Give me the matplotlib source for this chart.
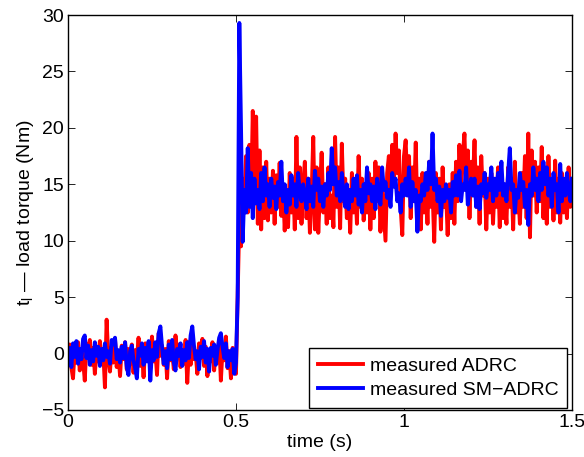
import numpy as np
import matplotlib
matplotlib.use('Agg')
import matplotlib.pyplot as plt

# sample step of the measured signals (s)
dt = 0.005

# measured load torque, ADRC (Nm)
adrc = [
    # before the load step
    -0.5, 0.8, -1.2, -2.2, 0.4, -0.8, 1.0, -1.5, 0.2, -0.6,
    -2.4, 0.9, -0.3, 1.2, -1.0, 0.5, -1.8, 0.3, -0.7, 1.1,
    -0.9, 0.2, -3.0, 3.0, -0.4, -1.6, 0.6, -0.8, 1.3, -1.2,
    0.1, -2.0, 0.7, -0.5, 1.0, -1.4, 0.4, -0.9, 0.8, -1.7,
    0.3, -0.6, 1.4, -1.1, 0.2, -2.1, 0.9, -0.4, 0.6, -1.3,
    1.5, -0.7, 0.3, -1.9, 1.8, -0.2, 0.7, -1.0, 0.4, -2.2,
    1.1, -0.6, 0.2, -1.4, 1.6, -0.3, 0.8, -1.2, 0.3, -0.9,
    1.2, -2.6, 0.5, -1.0, 1.4, -0.5, 0.1, -1.8, 0.9, -0.4,
    1.3, -1.1, 0.6, -2.0, 0.2, -0.7, 1.0, -1.5, 0.4, -0.8,
    1.2, -2.4, 0.3, -0.6, 1.5, -1.3, 0.2, -2.2, 0.5, -0.9, -1.8,
    # after the load step
    5.0, 12.0, 9.5, 15.5, 13.0, 17.5, 12.5, 18.5, 13.5, 21.5,
    14.0, 21.0, 11.5, 18.0, 11.0, 16.5, 12.0, 17.0, 11.8, 15.5,
    12.5, 16.2, 11.5, 15.8, 13.0, 16.9, 12.2, 15.0, 10.9, 14.5,
    11.2, 16.0, 12.5, 15.5, 11.0, 19.2, 12.0, 16.5, 11.5, 15.0,
    17.0, 12.0, 15.5, 10.7, 14.0, 19.2, 11.0, 16.5, 10.7, 14.5,
    17.8, 12.5, 15.0, 11.5, 16.5, 12.0, 14.0, 11.2, 19.2, 13.0,
    16.5, 11.1, 18.6, 13.5, 15.5, 12.0, 14.5, 10.7, 16.0, 12.5,
    15.0, 11.5, 17.5, 13.0, 15.5, 11.8, 14.0, 12.5, 16.0, 11.0,
    15.5, 12.0, 17.0, 13.5, 16.5, 10.8, 15.0, 12.5, 10.0, 16.0,
    17.5, 14.5, 18.5, 15.0, 19.5, 16.0, 18.0, 13.0, 10.5, 17.5,
    18.9, 15.0, 17.5, 12.0, 16.5, 13.5, 18.7, 12.0, 15.5, 11.0,
    16.0, 12.5, 15.0, 11.5, 17.0, 13.0, 14.5, 9.9, 16.0, 12.5,
    15.5, 11.0, 16.5, 13.0, 14.5, 10.5, 15.0, 12.0, 16.0, 11.5,
    17.0, 13.5, 18.5, 15.0, 17.5, 19.5, 14.5, 18.0, 12.0, 17.0,
    15.0, 18.9, 13.0, 16.5, 11.5, 17.5, 14.0, 16.0, 11.0, 15.5,
    12.5, 16.0, 11.5, 15.0, 13.0, 16.5, 11.2, 15.5, 12.0, 14.0,
    11.5, 16.5, 13.0, 15.5, 11.0, 17.0, 12.5, 14.5, 11.5, 16.0,
    13.0, 17.5, 12.0, 19.5, 10.3, 18.0, 14.0, 17.0, 12.5, 16.5,
    13.5, 18.3, 12.0, 16.0, 11.5, 17.5, 13.0, 15.5, 11.8, 17.1,
    12.5, 15.5, 11.6, 16.0, 12.5, 15.0, 12.0, 16.5, 13.0, 14.0,
]

# measured load torque, SM-ADRC (Nm)
sm_adrc = [
    # before the load step
    -0.8, 0.5, -1.2, 0.9, -0.3, 1.1, -0.9, 0.4, -0.5, 1.3,
    1.6, -0.4, 0.7, -1.0, 0.3, -0.7, 1.0, -0.2, 0.6, -1.1,
    0.4, -0.6, 0.9, -0.3, 0.2, -0.9, 1.2, 0.8, 1.4, -0.5,
    0.3, -0.8, 0.6, -0.4, 1.0, -1.2, -1.9, 0.2, 0.7, -0.6,
    -1.3, -2.2, 0.4, -0.2, 0.9, -1.0, 0.5, -0.7, 1.1, -2.4,
    0.3, -0.6, 1.0, -0.3, 1.8, 2.4, 0.6, -0.9, 0.2, -1.3,
    0.8, -0.5, 1.2, -0.8, -1.5, 0.4, -0.2, 0.9, -1.1, 0.3,
    -0.6, 1.0, -0.4, 1.6, 2.4, 0.7, -0.5, 0.2, -1.4, 0.6,
    -0.3, 1.1, -0.8, 0.4, -1.6, 0.5, -0.2, 0.8, -1.0, 0.3,
    1.4, 1.8, 0.6, -0.4, 0.9, -1.2, 0.2, -0.6, 0.4, -1.8, -0.8,
    # after the load step
    5.0, 29.3, 20.0, 9.9, 14.5, 12.5, 18.2, 13.0, 16.0, 12.0,
    15.5, 13.3, 14.5, 12.8, 16.0, 13.5, 16.5, 14.0, 15.0, 13.0,
    15.5, 13.8, 14.8, 12.8, 15.2, 14.0, 17.0, 13.5, 15.0, 12.5,
    14.5, 13.2, 15.8, 14.0, 15.0, 13.0, 16.0, 14.2, 13.5, 15.0,
    14.0, 12.8, 15.5, 13.5, 14.8, 13.0, 16.2, 14.5, 15.5, 13.5,
    14.8, 13.0, 15.0, 14.0, 16.0, 14.5, 18.2, 15.0, 16.5, 14.0,
    15.2, 13.5, 16.0, 14.0, 13.0, 15.0, 12.8, 14.5, 13.5, 15.5,
    14.0, 15.8, 13.2, 14.5, 12.5, 15.0, 13.5, 16.5, 14.2, 15.0,
    13.5, 14.8, 12.8, 15.5, 14.0, 13.2, 16.5, 14.5, 15.2, 13.8,
    14.5, 13.0, 16.0, 14.8, 15.5, 13.5, 14.2, 12.5, 15.0, 14.0,
    15.5, 14.0, 16.5, 13.0, 15.2, 13.5, 14.5, 10.8, 14.0, 13.5,
    15.0, 14.0, 16.0, 14.5, 17.0, 15.0, 19.5, 14.5, 15.5, 13.5,
    14.8, 12.2, 14.5, 13.5, 15.0, 13.8, 14.5, 12.5, 15.2, 14.0,
    15.8, 14.0, 16.2, 13.5, 15.0, 14.5, 16.5, 13.2, 14.5, 15.5,
    14.0, 15.5, 13.0, 14.8, 12.8, 15.0, 14.2, 16.0, 13.8, 15.0,
    14.5, 16.5, 13.5, 15.5, 14.0, 16.0, 14.5, 17.0, 14.0, 15.0,
    13.5, 16.0, 18.2, 14.5, 15.0, 12.5, 14.5, 13.8, 16.0, 14.5,
    15.2, 13.0, 14.5, 11.4, 15.0, 14.0, 16.5, 14.5, 15.5, 13.5,
    16.0, 14.5, 17.0, 15.0, 16.5, 14.0, 15.5, 13.0, 16.0, 14.5,
    15.0, 12.5, 16.8, 13.5, 15.5, 14.0, 16.0, 14.5, 13.5, 15.5,
]

labels = ['measured ADRC', 'measured SM\u2212ADRC']
x_ticks = [0, 0.5, 1, 1.5]
x_tick_labels = ['0', '0.5', '1', '1.5']
y_ticks = [-5, 0, 5, 10, 15, 20, 25, 30]

plt.rcParams['font.family'] = ['Liberation Sans', 'DejaVu Sans']
plt.rcParams['font.size'] = 14
plt.rcParams['mathtext.fontset'] = 'custom'
plt.rcParams['mathtext.rm'] = 'Liberation Sans'
plt.rcParams['mathtext.it'] = 'Liberation Sans'

fig = plt.figure(figsize=(5.84, 4.57), dpi=100)
ax = fig.add_axes([0.1164, 0.103, 0.8630, 0.864])

t = np.arange(len(adrc)) * dt
ax.plot(t, adrc, color='#ff0000', linewidth=2.8, label=labels[0])
ax.plot(t, sm_adrc, color='#0000ff', linewidth=2.8, label=labels[1])

ax.set_xlim(0, 1.5)
ax.set_ylim(-5, 30)
ax.set_xticks(x_ticks)
ax.set_xticklabels(x_tick_labels)
ax.set_yticks(y_ticks)
ax.tick_params(direction='in', top=True, right=True, length=5, width=0.6, pad=3)
for s in ax.spines.values():
    s.set_linewidth(1.0)

ax.set_xlabel('time (s)', labelpad=2)
ax.set_ylabel('t$_\\mathregular{l}$ \u2014 load torque (Nm)', labelpad=4)

leg = ax.legend(loc='lower right', bbox_to_anchor=(0.99, 0.005), borderaxespad=0,
                fancybox=False, framealpha=1, edgecolor='k',
                handlelength=2.3, handletextpad=0.35,
                borderpad=0.45, labelspacing=0.35)
leg.get_frame().set_linewidth(1.0)

fig.savefig('out.png', dpi=100)
